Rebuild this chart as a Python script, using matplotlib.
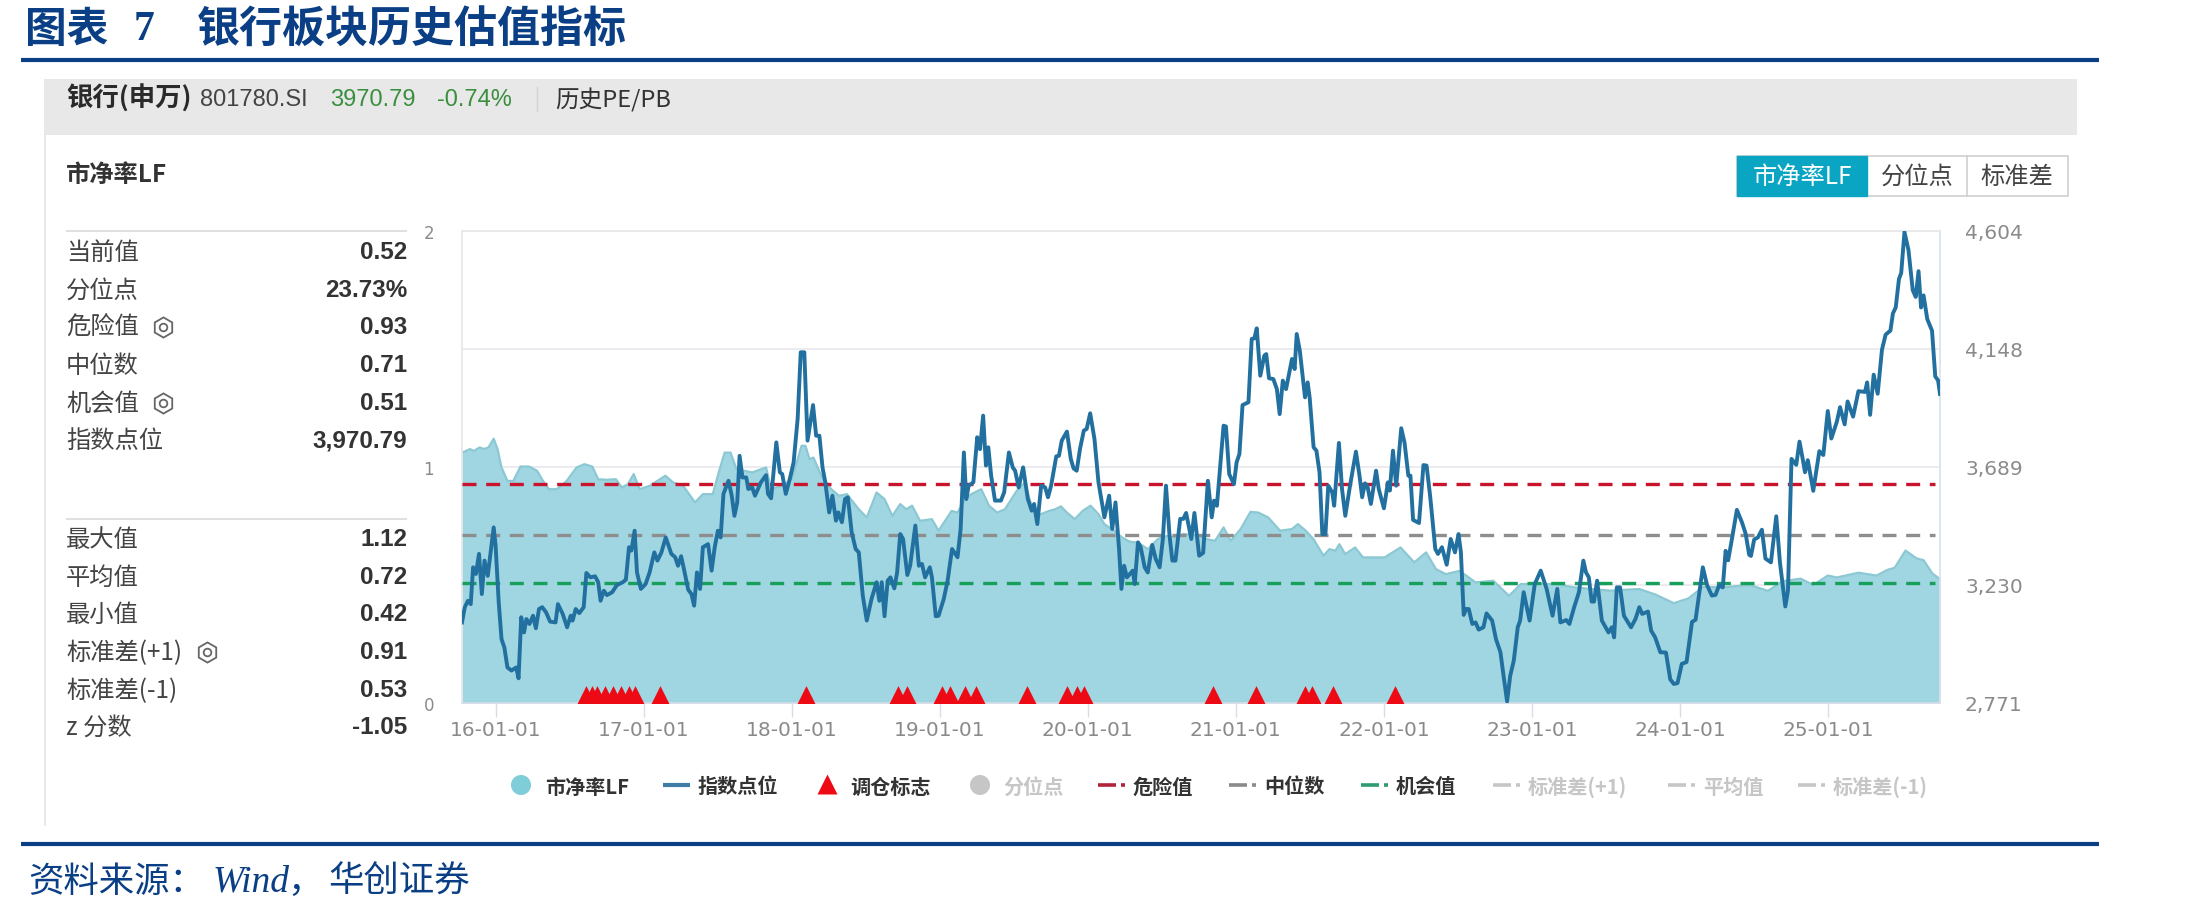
"""Bank sector historical PB panel."""

import matplotlib
matplotlib.use('Agg')
import matplotlib.pyplot as plt
from matplotlib.patches import Rectangle, Circle
from matplotlib.lines import Line2D

CJK = ['Noto Sans CJK SC', 'DejaVu Sans']
plt.rcParams['font.family'] = CJK
plt.rcParams['axes.unicode_minus'] = False

# index level, x in decimal years
index_years = [
    2015.773, 2015.792, 2015.813, 2015.832, 2015.848, 2015.867, 2015.888, 2015.907, 2015.925, 2015.947, 2015.987,
    2016.000, 2016.021, 2016.040, 2016.059, 2016.080, 2016.107, 2016.139, 2016.155, 2016.173, 2016.192, 2016.208,
    2016.229, 2016.253, 2016.272, 2016.293, 2016.315, 2016.341, 2016.368, 2016.405, 2016.421, 2016.453, 2016.483,
    2016.507, 2016.520, 2016.541, 2016.565, 2016.595, 2016.613, 2016.640, 2016.672, 2016.693, 2016.709, 2016.731,
    2016.752, 2016.787, 2016.819, 2016.859, 2016.880, 2016.901, 2016.917, 2016.939, 2016.955, 2016.981,
    2017.013, 2017.040, 2017.072, 2017.093, 2017.120, 2017.149, 2017.187, 2017.213, 2017.232, 2017.253, 2017.272,
    2017.301, 2017.323, 2017.341, 2017.360, 2017.381, 2017.400, 2017.435, 2017.459, 2017.480, 2017.501, 2017.520,
    2017.539, 2017.573, 2017.595, 2017.613, 2017.632, 2017.648, 2017.667, 2017.693, 2017.707, 2017.733, 2017.752,
    2017.792, 2017.827, 2017.840, 2017.861, 2017.896, 2017.920, 2017.936, 2017.960, 2017.987,
    2018.013, 2018.040, 2018.061, 2018.085, 2018.107, 2018.144, 2018.165, 2018.187, 2018.208, 2018.227, 2018.253,
    2018.275, 2018.299, 2018.315, 2018.339, 2018.360, 2018.379, 2018.405, 2018.432, 2018.453, 2018.480, 2018.507,
    2018.539, 2018.573, 2018.592, 2018.608, 2018.627, 2018.648, 2018.667, 2018.693, 2018.712, 2018.733, 2018.752,
    2018.781, 2018.800, 2018.835, 2018.859, 2018.880, 2018.901, 2018.933, 2018.947, 2018.973, 2018.992,
    2019.027, 2019.053, 2019.083, 2019.120, 2019.141, 2019.163, 2019.179, 2019.195, 2019.227, 2019.253, 2019.272,
    2019.293, 2019.312, 2019.328, 2019.347, 2019.373, 2019.413, 2019.435, 2019.467, 2019.493, 2019.509, 2019.533,
    2019.563, 2019.595, 2019.621, 2019.637, 2019.659, 2019.685, 2019.712, 2019.731, 2019.752, 2019.787, 2019.805,
    2019.824, 2019.859, 2019.885, 2019.904, 2019.925, 2019.947, 2019.973, 2019.992,
    2020.016, 2020.045, 2020.072, 2020.112, 2020.144, 2020.165, 2020.187, 2020.211, 2020.227, 2020.245, 2020.264,
    2020.304, 2020.317, 2020.339, 2020.357, 2020.384, 2020.405, 2020.435, 2020.459, 2020.485, 2020.507, 2020.528,
    2020.552, 2020.571, 2020.592, 2020.624, 2020.645, 2020.664, 2020.699, 2020.720, 2020.752, 2020.779, 2020.811,
    2020.837, 2020.853, 2020.872, 2020.917, 2020.933, 2020.955, 2020.987,
    2021.005, 2021.024, 2021.045, 2021.085, 2021.107, 2021.125, 2021.141, 2021.165, 2021.192, 2021.205, 2021.224,
    2021.253, 2021.277, 2021.296, 2021.317, 2021.339, 2021.379, 2021.397, 2021.411, 2021.432, 2021.467, 2021.485,
    2021.499, 2021.525, 2021.544, 2021.565, 2021.584, 2021.605, 2021.624, 2021.651, 2021.664, 2021.696, 2021.717,
    2021.739, 2021.771, 2021.811, 2021.835, 2021.853, 2021.872, 2021.888, 2021.912, 2021.947, 2021.965,
    2022.000, 2022.027, 2022.040, 2022.061, 2022.083, 2022.117, 2022.139, 2022.165, 2022.179, 2022.197, 2022.237,
    2022.267, 2022.288, 2022.312, 2022.347, 2022.365, 2022.392, 2022.424, 2022.451, 2022.480, 2022.504, 2022.520,
    2022.539, 2022.555, 2022.573, 2022.597, 2022.619, 2022.640, 2022.672, 2022.693, 2022.731, 2022.757, 2022.787,
    2022.811, 2022.832, 2022.853, 2022.877, 2022.904, 2022.920, 2022.944, 2022.984,
    2023.019, 2023.059, 2023.099, 2023.139, 2023.171, 2023.192, 2023.232, 2023.253, 2023.285, 2023.317, 2023.347,
    2023.365, 2023.384, 2023.403, 2023.419, 2023.440, 2023.472, 2023.517, 2023.539, 2023.555, 2023.573, 2023.595,
    2023.621, 2023.669, 2023.699, 2023.725, 2023.744, 2023.784, 2023.805, 2023.832, 2023.867, 2023.905, 2023.934,
    2023.958, 2023.983,
    2024.012, 2024.044, 2024.081, 2024.105, 2024.154, 2024.183, 2024.215, 2024.240, 2024.264, 2024.289, 2024.308,
    2024.325, 2024.350, 2024.384, 2024.418, 2024.443, 2024.467, 2024.479, 2024.501, 2024.526, 2024.553, 2024.577,
    2024.614, 2024.650, 2024.675, 2024.711, 2024.729, 2024.753, 2024.785, 2024.807, 2024.831, 2024.844, 2024.863,
    2024.900, 2024.941, 2024.968, 2024.998,
    2025.022, 2025.059, 2025.081, 2025.112, 2025.132, 2025.169, 2025.205, 2025.249, 2025.264, 2025.284, 2025.308,
    2025.335, 2025.364, 2025.389, 2025.421, 2025.438, 2025.457, 2025.479, 2025.494, 2025.516, 2025.543, 2025.572,
    2025.592, 2025.611, 2025.628, 2025.645, 2025.670, 2025.702, 2025.724, 2025.743, 2025.756,
]
index_values = [
    3084, 3143, 3168, 3155, 3298, 3272, 3350, 3194, 3324, 3265, 3453,
    3382, 3162, 3019, 2987, 2909, 2897, 2909, 2867, 3104, 3045, 3097,
    3078, 3110, 3061, 3136, 3143, 3123, 3087, 3084, 3155, 3117, 3065,
    3110, 3091, 3136, 3120, 3143, 3276, 3259, 3263, 3240, 3168, 3207,
    3190, 3201, 3229, 3240, 3250, 3376, 3363, 3440, 3278, 3214,
    3233, 3278, 3356, 3324, 3356, 3414, 3350, 3337, 3304, 3341, 3291,
    3211, 3194, 3149, 3278, 3214, 3376, 3388, 3285, 3376, 3440, 3414,
    3583, 3634, 3576, 3498, 3550, 3731, 3647, 3647, 3602, 3608, 3576,
    3628, 3656, 3583, 3566, 3783, 3667, 3660, 3583, 3641,
    3706, 3874, 4133, 4133, 3790, 3928, 3809, 3809, 3686, 3628, 3511,
    3576, 3479, 3511, 3473, 3563, 3570, 3434, 3369, 3356, 3188, 3091,
    3175, 3240, 3168, 3240, 3108, 3246, 3259, 3216, 3278, 3427, 3408,
    3268, 3304, 3460, 3304, 3311, 3259, 3298, 3259, 3108, 3110,
    3175, 3246, 3369, 3337, 3447, 3744, 3563, 3615, 3628, 3803, 3757,
    3887, 3693, 3764, 3654, 3557, 3557, 3589, 3744, 3686, 3673, 3608,
    3686, 3563, 3518, 3544, 3466, 3615, 3608, 3570, 3615, 3729, 3731,
    3790, 3825, 3719, 3682, 3673, 3757, 3829, 3835,
    3896, 3796, 3628, 3492, 3576, 3447, 3550, 3369, 3214, 3304, 3259,
    3285, 3233, 3395, 3376, 3298, 3278, 3385, 3330, 3298, 3408, 3615,
    3421, 3324, 3324, 3486, 3486, 3509, 3408, 3509, 3343, 3354, 3634,
    3492, 3557, 3537, 3848, 3845, 3660, 3621,
    3706, 3738, 3928, 3939, 4185, 4187, 4226, 4042, 4120, 4126, 4032,
    4029, 3990, 3893, 4023, 3990, 4107, 4068, 4204, 4139, 3958, 4016,
    3954, 3764, 3751, 3667, 3427, 3427, 3615, 3589, 3537, 3781, 3602,
    3498, 3615, 3747, 3654, 3570, 3624, 3615, 3544, 3673, 3602,
    3527, 3628, 3596, 3751, 3615, 3838, 3783, 3654, 3654, 3482, 3470,
    3695, 3693, 3576, 3369, 3350, 3376, 3308, 3408, 3356, 3427, 3356,
    3113, 3136, 3136, 3078, 3084, 3056, 3065, 3119, 3091, 3019, 2968,
    2864, 2777, 2877, 2935, 3065, 3091, 3201, 3091,
    3233, 3285, 3214, 3110, 3214, 3084, 3093, 3078, 3143, 3201, 3324,
    3278, 3259, 3165, 3165, 3246, 3091, 3045, 3065, 3026, 3220, 3220,
    3110, 3065, 3097, 3143, 3117, 3126, 3052, 3026, 2968, 2967, 2863,
    2845, 2848,
    2923, 2930, 3086, 3094, 3298, 3228, 3188, 3191, 3228, 3220, 3362,
    3325, 3406, 3521, 3473, 3429, 3347, 3342, 3406, 3414, 3444, 3332,
    3317, 3496, 3317, 3146, 3206, 3719, 3696, 3786, 3711, 3667, 3714,
    3595, 3749, 3734, 3905,
    3798, 3863, 3920, 3853, 3942, 3883, 3982, 3979, 4016, 3890, 4046,
    3972, 4143, 4202, 4217, 4284, 4307, 4418, 4441, 4600, 4530, 4374,
    4348, 4448, 4307, 4354, 4262, 4217, 4039, 4024, 3971,
]

# PB LF
pb_years = [
    2015.773, 2015.800, 2015.827, 2015.853, 2015.893, 2015.920, 2015.952, 2015.987,
    2016.013, 2016.040, 2016.080, 2016.120, 2016.168, 2016.227, 2016.280, 2016.320, 2016.360, 2016.413, 2016.480,
    2016.547, 2016.600, 2016.653, 2016.693, 2016.747, 2016.813, 2016.853, 2016.893, 2016.933, 2016.973,
    2017.040, 2017.147, 2017.200, 2017.267, 2017.307, 2017.347, 2017.400, 2017.467, 2017.507, 2017.547, 2017.587,
    2017.627, 2017.733, 2017.827, 2017.861, 2017.933,
    2018.000, 2018.067, 2018.093, 2018.120, 2018.147, 2018.200, 2018.267, 2018.320, 2018.373, 2018.453, 2018.507,
    2018.573, 2018.627, 2018.680, 2018.733, 2018.773, 2018.813, 2018.867, 2018.947, 2018.992,
    2019.080, 2019.120, 2019.173, 2019.213, 2019.280, 2019.333, 2019.387, 2019.440, 2019.520, 2019.573, 2019.627,
    2019.653, 2019.739, 2019.779, 2019.819, 2019.859, 2019.912, 2019.965,
    2020.019, 2020.072, 2020.112, 2020.179, 2020.232, 2020.285, 2020.339, 2020.405, 2020.472, 2020.539, 2020.592,
    2020.645, 2020.752, 2020.805, 2020.859, 2020.917, 2020.965,
    2021.032, 2021.099, 2021.152, 2021.219, 2021.299, 2021.379, 2021.419, 2021.472, 2021.525, 2021.592, 2021.632,
    2021.672, 2021.699, 2021.739, 2021.805, 2021.859, 2021.939,
    2022.005, 2022.112, 2022.205, 2022.285, 2022.352, 2022.419, 2022.512, 2022.619, 2022.739, 2022.845, 2022.925,
    2023.019, 2023.152, 2023.285, 2023.525, 2023.725, 2023.836, 2023.958,
    2024.056, 2024.154, 2024.301, 2024.472, 2024.594, 2024.692, 2024.814, 2024.900, 2024.998,
    2025.059, 2025.205, 2025.328, 2025.401, 2025.450, 2025.523, 2025.597, 2025.645, 2025.706, 2025.756,
]
pb_values = [
    1.061, 1.068, 1.076, 1.068, 1.083, 1.076, 1.083, 1.120,
    1.076, 0.998, 0.941, 0.941, 1.002, 1.002, 0.984, 0.941, 0.906, 0.906, 0.941,
    0.998, 1.012, 1.002, 0.948, 0.946, 0.948, 0.913, 0.927, 0.970, 0.906,
    0.920, 0.963, 0.934, 0.920, 0.885, 0.850, 0.885, 0.885, 0.977, 1.061, 1.061,
    0.991, 0.977, 0.998, 0.906, 0.920,
    0.948, 1.090, 1.090, 1.033, 1.040, 0.963, 0.906, 0.878, 0.885, 0.821, 0.786,
    0.892, 0.864, 0.793, 0.843, 0.821, 0.836, 0.772, 0.779, 0.730,
    0.814, 0.807, 0.864, 0.885, 0.906, 0.836, 0.807, 0.821, 0.899, 0.934, 0.821,
    0.793, 0.814, 0.821, 0.833, 0.807, 0.779, 0.814,
    0.836, 0.800, 0.758, 0.730, 0.701, 0.683, 0.680, 0.652, 0.694, 0.709, 0.701,
    0.716, 0.709, 0.694, 0.687, 0.744, 0.687,
    0.737, 0.810, 0.807, 0.786, 0.730, 0.737, 0.758, 0.730, 0.694, 0.624, 0.652,
    0.645, 0.673, 0.631, 0.659, 0.617, 0.617,
    0.617, 0.659, 0.596, 0.638, 0.567, 0.546, 0.560, 0.511, 0.518, 0.454, 0.504,
    0.504, 0.504, 0.490, 0.476, 0.483, 0.459, 0.423,
    0.443, 0.491, 0.491, 0.500, 0.475, 0.516, 0.527, 0.500, 0.540,
    0.532, 0.552, 0.540, 0.564, 0.573, 0.646, 0.613, 0.605, 0.548, 0.525,
]

# rebalance flags
trade_years = [
    2016.613, 2016.648, 2016.685, 2016.741, 2016.792, 2016.845, 2016.901, 2016.939, 2017.107, 2018.096, 2018.720,
    2018.781, 2019.013, 2019.072, 2019.173, 2019.245, 2019.592, 2019.859, 2019.925, 2019.971, 2020.848, 2021.133,
    2021.467, 2021.512, 2021.653, 2022.077,
]

danger_value = 0.93
median_value = 0.71
chance_value = 0.51

left_ticks = [0, 1, 2]
right_ticks = [2771, 3230, 3689, 4148, 4604]
year_ticks = [2016, 2017, 2018, 2019, 2020, 2021, 2022, 2023, 2024, 2025]
year_labels = ['16-01-01', '17-01-01', '18-01-01', '19-01-01', '20-01-01',
               '21-01-01', '22-01-01', '23-01-01', '24-01-01', '25-01-01']

stats_top = [('当前值', '0.52'), ('分位点', '23.73%'), ('危险值', '0.93'),
             ('中位数', '0.71'), ('机会值', '0.51'), ('指数点位', '3,970.79')]
stats_bottom = [('最大值', '1.12'), ('平均值', '0.72'), ('最小值', '0.42'),
                ('标准差(+1)', '0.91'), ('标准差(-1)', '0.53'), ('z 分数', '-1.05')]

NAVY = '#0B3F85'
FILL = '#9FD6E1'
EDGE = '#8CC8D3'
LINE = '#22709F'
RED = '#C8142C'
GRAY = '#8E8E8E'
GREEN = '#16A05A'
RISE = '#3A8F3F'
TICK = '#8A8A8A'
FAINT = '#C6C6C6'

W, H = 2208, 912
fig = plt.figure(figsize=(W / 100, H / 100), dpi=100, facecolor='white')

# page furniture lives on a full-figure axes in pixel units
bg = fig.add_axes([0, 0, 1, 1], zorder=0)
bg.set_xlim(0, W)
bg.set_ylim(H, 0)
bg.axis('off')


def txt(x, y, s, size, color='#333333', weight='normal', ha='left', family=None, style='normal'):
    bg.text(x, y, s, fontsize=size, color=color, fontweight=weight, ha=ha, va='center',
            family=family or CJK, style=style)


def hline(x0, x1, y, color, lw):
    bg.add_line(Line2D([x0, x1], [y, y], color=color, lw=lw, solid_capstyle='butt'))


def gear(x, y):
    bg.plot([x], [y], marker='h', ms=14.5, mfc='white', mec='#666666', mew=1.3)
    bg.plot([x], [y], marker='o', ms=5.5, mfc='white', mec='#666666', mew=1.3)


# title
txt(25, 30, '图表', 30, NAVY, 'bold')
txt(134, 30, '7', 30, NAVY, 'bold', family='Liberation Serif')
txt(197, 30, '银行板块历史估值指标', 31, NAVY, 'bold')
hline(21, 2099, 61, NAVY, 3)

# header band and card
bg.add_patch(Rectangle((44, 80), 2033, 56, fc='#E8E8E8', ec='none'))
bg.add_line(Line2D([45, 45], [136, 826], color='#E4E4E4', lw=1.2))
txt(66, 99, '银行(申万)', 19, '#2A2A2A', 'bold')
txt(200, 100, '801780.SI', 17, '#444444', family='Liberation Sans')
txt(330, 100, '3970.79', 17, RISE, family='Liberation Sans')
txt(437, 100, '-0.74%', 17, RISE, family='Liberation Sans')
bg.add_line(Line2D([537, 537], [88, 112], color='#D2D2D2', lw=1))
txt(555, 100, '历史PE/PB', 17, '#333333')
txt(66, 175, '市净率LF', 17.5, '#333333', 'bold')

# switch buttons
bg.add_patch(Rectangle((1737, 157), 331, 40, fc='white', ec='#D0D0D0', lw=1.2))
bg.add_patch(Rectangle((1737, 157), 130, 40, fc='#0BA5C4', ec='#0BA5C4', lw=1))
bg.add_line(Line2D([1967, 1967], [157, 197], color='#D0D0D0', lw=1.2))
txt(1802, 177, '市净率LF', 17.5, 'white', ha='center')
txt(1917, 177, '分位点', 17.5, '#444444', ha='center')
txt(2017, 177, '标准差', 17.5, '#444444', ha='center')

# stats table
hline(66, 407, 232, '#DDDDDD', 1.3)
hline(66, 407, 520, '#DDDDDD', 1.3)
for (name, val), y in zip(stats_top, [253, 291, 328, 366, 404, 441]):
    txt(66, y, name, 17.5, '#444444')
    txt(407, y, val, 17.5, '#333333', 'bold', ha='right', family='Liberation Sans')
for (name, val), y in zip(stats_bottom, [540, 578, 615, 653, 691, 728]):
    txt(66, y, name, 17.5, '#444444')
    txt(407, y, val, 17.5, '#333333', 'bold', ha='right', family='Liberation Sans')
gear(163, 328)
gear(163, 404)
gear(207, 653)

# chart
ax = fig.add_axes([462 / W, 1 - 704 / H, (1940 - 462) / W, 472 / H], zorder=1)
ax.set_xlim(index_years[0], index_years[-1])
ax.set_ylim(0, 2)
ax.set_yticks([0.5, 1, 1.5], minor=False)
ax.grid(axis='y', color='#E8E8EE', lw=1.2)
ax.set_axisbelow(True)

ax.fill_between(pb_years, pb_values, 0, color=FILL, lw=0, zorder=2)
ax.plot(pb_years, pb_values, color=EDGE, lw=1.6, zorder=2.5)

for val, col in [(danger_value, RED), (median_value, GRAY), (chance_value, GREEN)]:
    ax.plot([index_years[0], 2025.72], [val, val], color=col, lw=2.4, zorder=3,
            dashes=(4.2, 2.9), dash_capstyle='butt')

ax.scatter(trade_years, [0.027] * len(trade_years), marker='^', s=270, color='#EE0A14', lw=0, zorder=5)

ax.set_yticks(left_ticks + [0.5, 1.5])
ax.set_yticklabels(['0', '1', '2', '', ''], fontsize=12, color=TICK, family='DejaVu Sans')
ax.tick_params(axis='y', length=0, pad=20)
ax.set_xticks(year_ticks)
ax.set_xticklabels(year_labels, fontsize=14.5, color=TICK, family='DejaVu Sans')
ax.tick_params(axis='x', length=10, width=1, color='#D8DDE8', pad=2.5)
for side, col in [('top', '#E8E8E8'), ('left', '#E6E6EA'), ('right', '#D8E0EC'), ('bottom', '#D8DDE8')]:
    ax.spines[side].set_color(col)
    ax.spines[side].set_linewidth(1.2)

ax2 = ax.twinx()
ax2.set_ylim(2771, 4604)
ax2.plot(index_years, index_values, color=LINE, lw=2.8, solid_joinstyle='round', zorder=4)
ax2.set_yticks(right_ticks)
ax2.set_yticklabels(['{:,}'.format(t) for t in right_ticks], fontsize=14.5, color=TICK, family='DejaVu Sans')
ax2.tick_params(axis='y', length=0, pad=18)
for side in ['top', 'left', 'right', 'bottom']:
    ax2.spines[side].set_visible(False)

# legend row
LY = 786
bg.add_patch(Circle((521, LY), 10, fc='#7FCDD8', ec='none'))
txt(545, LY + 1, '市净率LF', 14.5, '#333333', 'bold')
hline(663, 690, LY, '#3F7CA6', 3)
txt(698, LY + 1, '指数点位', 14.5, '#333333', 'bold')
bg.plot([827], [LY - 1], marker='^', ms=14, mfc='#EE0A14', mec='none')
txt(850, LY + 1, '调仓标志', 14.5, '#333333', 'bold')
bg.add_patch(Circle((980, LY), 10, fc=FAINT, ec='none'))
txt(1003, LY + 1, '分位点', 14.5, FAINT, 'bold')
for x0, name, line_col, text_col in [(1098, '危险值', '#B3243A', '#333333'),
                                     (1229, '中位数', '#8A8A8A', '#333333'),
                                     (1361, '机会值', '#2E9C6E', '#333333'),
                                     (1493, '标准差(+1)', FAINT, FAINT),
                                     (1668, '平均值', FAINT, FAINT),
                                     (1798, '标准差(-1)', FAINT, FAINT)]:
    hline(x0, x0 + 18, LY, line_col, 2.6)
    hline(x0 + 23, x0 + 27, LY, line_col, 2.6)
    txt(x0 + 35, LY + 1, name, 14.5, text_col, 'bold')

# footer
hline(21, 2099, 845, NAVY, 3)
txt(28, 882, '资料来源：', 25.5, NAVY)
txt(213, 882, 'Wind', 27, NAVY, family='Liberation Serif', style='italic')
txt(287, 882, '，', 25.5, NAVY)
txt(328, 882, '华创证券', 25.5, NAVY)

fig.savefig('out.png', dpi=100)
